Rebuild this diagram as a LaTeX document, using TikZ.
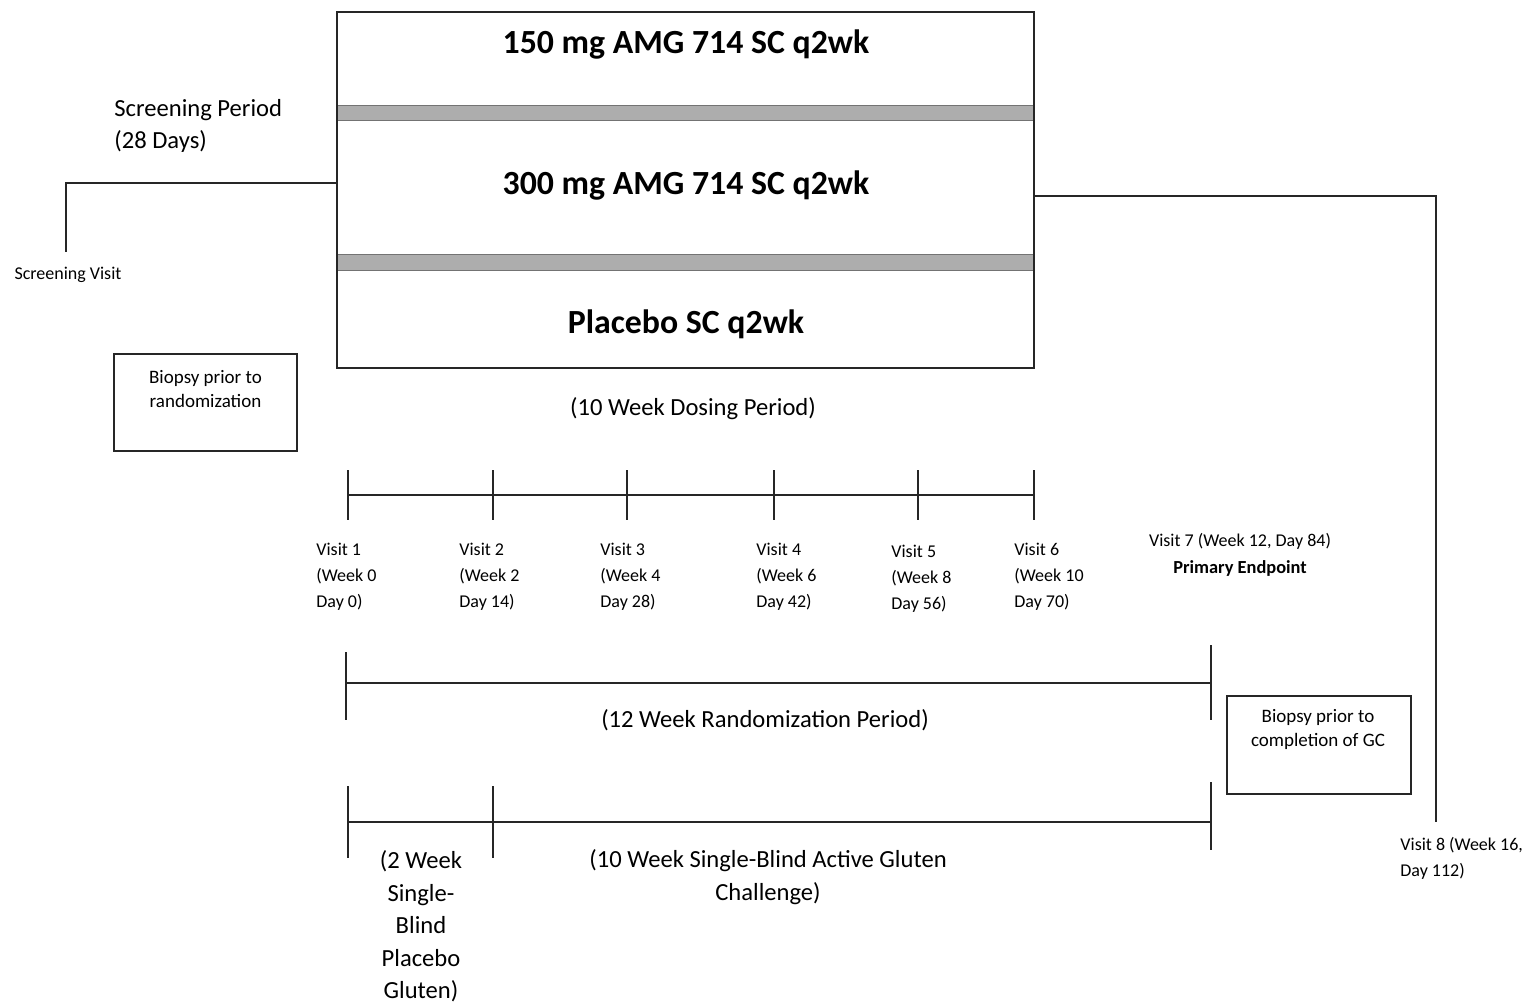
\documentclass[tikz,border=0pt]{standalone}
\usepackage{fontspec}
\setmainfont{Carlito}
\begin{document}
\begin{tikzpicture}[x=0.5pt,y=-0.5pt,
  ln/.style={line width=0.9pt,black!85},
  arm/.style={font=\bfseries\fontsize{16.9}{20}\selectfont},
  mid/.style={font=\fontsize{12.3}{16.3}\selectfont,inner sep=0pt},
  small/.style={font=\fontsize{9}{12}\selectfont,inner sep=0pt},
  bio/.style={font=\fontsize{9.5}{12}\selectfont,inner sep=0pt,align=center,anchor=north},
  visit/.style={font=\fontsize{9}{13}\selectfont,inner sep=0pt,anchor=north west,align=left},
  band/.style={fill=black!32,draw=black!55,line width=0.5pt}]
\useasboundingbox (0,0) rectangle (1529,1002);
% main arms box
\coordinate (bx1) at (337,12);
\coordinate (bx2) at (1034,368);
\fill[band] (337,105) rectangle (1034,120);
\fill[band] (337,254) rectangle (1034,270);
\draw[ln] (bx1) rectangle (bx2);
\node[arm] (a150) at (686,44) {150 mg AMG 714 SC q2wk};
\node[arm] (a300) at (686,185) {300 mg AMG 714 SC q2wk};
\node[arm] (apl) at (686,324) {Placebo SC q2wk};
% screening
\node[mid,anchor=west,align=left] (scr) at (114,126) {Screening Period\\(28 Days)};
\coordinate (sl) at (337,183);
\coordinate (sc) at (66,183);
\coordinate (sv) at (66,252);
\draw[ln] (sl) -- (sc) -- (sv);
\node[small] (scrv) at (68,275) {Screening Visit};
% right follow-up line
\coordinate (rl) at (1034,196);
\coordinate (rc) at (1436,196);
\coordinate (rv) at (1436,822);
\draw[ln] (rl) -- (rc) -- (rv);
\node[visit] (v8) at (1400,837) {Visit 8 (Week 16,\\Day 112)};
% biopsy left
\node[draw,ln,minimum width=91.5pt,minimum height=48.5pt,inner sep=0pt] (bl) at (205.5,402.5) {};
\node[bio] (blt) at (205.5,370) {Biopsy prior to\\randomization};
\node[mid] (dose) at (693,409) {(10 Week Dosing Period)};
% dosing timeline
\foreach \n/\x in {1/348,2/493,3/627,4/774,5/918,6/1034}{
  \coordinate (tt\n) at (\x,470);
  \coordinate (tb\n) at (\x,520);
  \coordinate (tm\n) at (\x,495);
  \draw[ln] (tt\n) -- (tb\n);
}
\draw[ln] (tm1) -- (tm6);
\node[visit] (v1) at (316,543) {Visit 1\\(Week 0\\Day 0)};
\node[visit] (v2) at (459,543) {Visit 2\\(Week 2\\Day 14)};
\node[visit] (v3) at (600,543) {Visit 3\\(Week 4\\Day 28)};
\node[visit] (v4) at (756,543) {Visit 4\\(Week 6\\Day 42)};
\node[visit] (v5) at (891,545) {Visit 5\\(Week 8\\Day 56)};
\node[visit] (v6) at (1014,543) {Visit 6\\(Week 10\\Day 70)};
\node[small] (v7) at (1240,541) {Visit 7 (Week 12, Day 84)};
\node[small,font=\bfseries\fontsize{9.2}{12}\selectfont] (pe) at (1240,568) {Primary Endpoint};
% randomization bracket
\coordinate (r1t) at (346,652); \coordinate (r1b) at (346,720); \coordinate (r1m) at (346,683);
\coordinate (r2t) at (1211,645); \coordinate (r2b) at (1211,720); \coordinate (r2m) at (1211,683);
\draw[ln] (r1t) -- (r1b);
\draw[ln] (r2t) -- (r2b);
\draw[ln] (r1m) -- (r2m);
\node[mid] (rand) at (765,720) {(12 Week Randomization Period)};
% biopsy right
\node[draw,ln,minimum width=92pt,minimum height=49pt,inner sep=0pt] (br) at (1319,745) {};
\node[bio] (brt) at (1318,709) {Biopsy prior to\\completion of GC};
% gluten challenge bracket
\coordinate (g1t) at (348,786); \coordinate (g1b) at (348,858); \coordinate (g1m) at (348,822);
\coordinate (g2t) at (493,786); \coordinate (g2b) at (493,858);
\coordinate (g3t) at (1211,782); \coordinate (g3b) at (1211,850); \coordinate (g3m) at (1211,822);
\draw[ln] (g1t) -- (g1b);
\draw[ln] (g2t) -- (g2b);
\draw[ln] (g3t) -- (g3b);
\draw[ln] (g1m) -- (g3m);
\node[mid,align=center,anchor=north] (pg) at (421,850) {(2 Week\\Single-\\Blind\\Placebo\\Gluten)};
\node[mid,align=center,anchor=north] (ag) at (768,849) {(10 Week Single-Blind Active Gluten\\Challenge)};
\end{tikzpicture}
\end{document}
